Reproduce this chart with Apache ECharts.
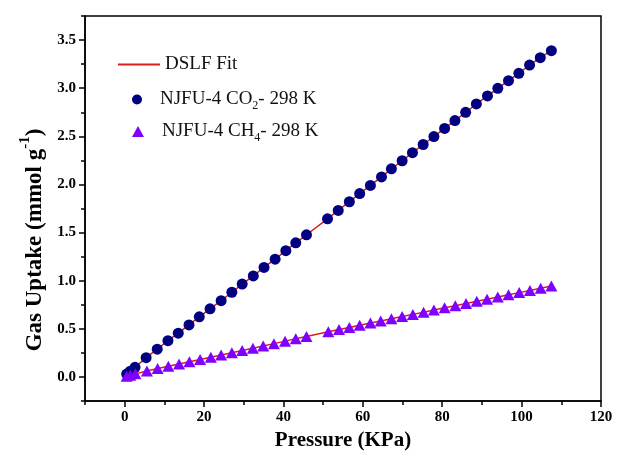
<!DOCTYPE html>
<html>
<head>
<meta charset="utf-8">
<script src="https://cdn.jsdelivr.net/npm/echarts@6/dist/echarts.min.js"></script>
<style>html,body{margin:0;padding:0;background:#fff;}#c{width:619px;height:458px;}</style>
</head>
<body>
<div id="c"></div>
<script>
// ---- data ----
const co2Pressure = [0.5, 1.4, 2.6, 5.4, 8.2, 10.9, 13.5, 16.2, 18.8, 21.5, 24.3, 27.0, 29.6, 32.4, 35.1, 37.9, 40.6, 43.1, 45.8,
  51.1, 53.8, 56.6, 59.2, 61.9, 64.7, 67.2, 69.9, 72.5, 75.2, 77.9, 80.6, 83.2, 85.9, 88.6, 91.4, 94.0, 96.7, 99.3, 102.0, 104.7, 107.5];
const co2Uptake = [0.03, 0.06, 0.10, 0.200, 0.288, 0.377, 0.455, 0.540, 0.625, 0.708, 0.792, 0.880, 0.965, 1.050, 1.138, 1.224, 1.312, 1.394, 1.477,
  1.643, 1.730, 1.820, 1.905, 1.990, 2.078, 2.162, 2.246, 2.330, 2.415, 2.497, 2.582, 2.663, 2.749, 2.836, 2.920, 2.999, 3.078, 3.155, 3.240, 3.317, 3.390];
const ch4Pressure = [0.5, 1.4, 2.7, 5.6, 8.3, 11.0, 13.7, 16.3, 19.0, 21.7, 24.3, 27.0, 29.6, 32.3, 34.9, 37.6, 40.4, 43.1, 45.8,
  51.3, 54.0, 56.6, 59.2, 61.9, 64.5, 67.2, 69.9, 72.6, 75.3, 77.9, 80.6, 83.3, 86.0, 88.7, 91.3, 94.0, 96.7, 99.4, 102.1, 104.8, 107.5];
const ch4Uptake = [0.008, 0.018, 0.032, 0.062, 0.088, 0.112, 0.135, 0.158, 0.182, 0.205, 0.228, 0.252, 0.275, 0.298, 0.322, 0.346, 0.372, 0.397, 0.420,
  0.470, 0.492, 0.514, 0.537, 0.560, 0.582, 0.605, 0.628, 0.650, 0.673, 0.695, 0.718, 0.740, 0.763, 0.786, 0.808, 0.830, 0.853, 0.876, 0.898, 0.921, 0.945];
const xMajorTicks = [0, 20, 40, 60, 80, 100, 120];
const xMinorTicks = [-10, 10, 30, 50, 70, 90, 110];
const yMajorTicks = [0, 0.5, 1.0, 1.5, 2.0, 2.5, 3.0, 3.5];
const yMinorTicks = [-0.25, 0.25, 0.75, 1.25, 1.75, 2.25, 2.75, 3.25, 3.75];
const fitName = 'DSLF Fit';
const co2Name = 'NJFU-4 CO2- 298 K';
const ch4Name = 'NJFU-4 CH4- 298 K';
const xTitle = 'Pressure (KPa)';
const yTitle = '{t|Gas Uptake (mmol g}{p|-1}{t|)}';

const zip = (a, b) => a.map((v, i) => [v, b[i]]);
const serif = 'Liberation Serif';
const black = '#000';
const red = '#d8201c';

const chart = echarts.init(document.getElementById('c'), null, {renderer: 'canvas'});
const legendText = (padLeft) => ({
  fontFamily: serif, fontSize: 19, color: '#111', padding: [0, 0, 0, padLeft],
  rich: {
    t: {fontFamily: serif, fontSize: 19, color: '#111', lineHeight: 24},
    s: {fontFamily: serif, fontSize: 12, color: '#111', lineHeight: 12, verticalAlign: 'bottom'}
  }
});
const legendFmt = (n) => {
  if (n === co2Name) return '{t|NJFU-4 CO}{s|2}{t|- 298 K}';
  if (n === ch4Name) return '{t|NJFU-4 CH}{s|4}{t|- 298 K}';
  return '{t|' + n + '}';
};
const tickLabel = {fontFamily: serif, fontWeight: 'bold', fontSize: 15, color: black};

chart.setOption({
  animation: false,
  backgroundColor: '#fff',
  grid: {left: 85, right: 18, top: 16, bottom: 57, show: true, borderColor: black, borderWidth: 1.5, backgroundColor: 'transparent'},
  legend: [
    {data: [{name: fitName, icon: 'rect', itemStyle: {color: red}}], left: 118, top: 55, padding: 0, itemGap: 0, itemWidth: 42, itemHeight: 2,
      formatter: legendFmt, textStyle: legendText(0), selectedMode: false},
    {data: [{name: co2Name, icon: 'circle'}], left: 132, top: 90, padding: 0, itemWidth: 10, itemHeight: 10,
      formatter: legendFmt, textStyle: legendText(13), selectedMode: false},
    {data: [{name: ch4Name, icon: 'triangle'}], left: 132, top: 122, padding: 0, itemWidth: 12, itemHeight: 11,
      formatter: legendFmt, textStyle: legendText(13), selectedMode: false}
  ],
  graphic: [{
    type: 'text', x: 32, y: 240, rotation: Math.PI / 2, silent: true,
    style: {
      text: yTitle, align: 'center', verticalAlign: 'middle',
      fontFamily: serif, fontWeight: 'bold', fontSize: 23, fill: black,
      rich: {
        t: {fontFamily: serif, fontWeight: 'bold', fontSize: 23, fill: black, lineHeight: 29, verticalAlign: 'bottom'},
        p: {fontFamily: serif, fontWeight: 'bold', fontSize: 15, fill: black, lineHeight: 15, verticalAlign: 'top'}
      }
    }
  }],
  xAxis: [
    {
      type: 'value', min: -10, max: 120, position: 'bottom',
      name: xTitle, nameLocation: 'middle', nameGap: 27,
      nameTextStyle: {fontFamily: serif, fontWeight: 'bold', fontSize: 21, color: black},
      axisLine: {show: true, onZero: false, lineStyle: {color: black, width: 1.5}},
      axisTick: {show: true, customValues: xMajorTicks, length: 6, inside: false, lineStyle: {color: black, width: 1.5}},
      axisLabel: Object.assign({customValues: xMajorTicks, margin: 9}, tickLabel),
      splitLine: {show: false}
    },
    {
      type: 'value', min: -10, max: 120, position: 'bottom',
      axisLine: {show: false, onZero: false},
      axisTick: {show: true, customValues: xMinorTicks, length: 4, lineStyle: {color: black, width: 1.5}},
      axisLabel: {show: false},
      splitLine: {show: false}
    }
  ],
  yAxis: [
    {
      type: 'value', min: -0.25, max: 3.75, position: 'left',
      axisLine: {show: true, onZero: false, lineStyle: {color: black, width: 1.5}},
      axisTick: {show: true, customValues: yMajorTicks, length: 6, lineStyle: {color: black, width: 1.5}},
      axisLabel: Object.assign({customValues: yMajorTicks, margin: 9, formatter: (v) => v.toFixed(1)}, tickLabel),
      splitLine: {show: false}
    },
    {
      type: 'value', min: -0.25, max: 3.75, position: 'left',
      axisLine: {show: false, onZero: false},
      axisTick: {show: true, customValues: yMinorTicks, length: 4, lineStyle: {color: black, width: 1.5}},
      axisLabel: {show: false},
      splitLine: {show: false}
    }
  ],
  series: [
    {name: fitName, type: 'line', xAxisIndex: 0, yAxisIndex: 0, data: zip(co2Pressure, co2Uptake), symbol: 'none', z: 1,
      lineStyle: {color: red, width: 1.5}, itemStyle: {color: red}},
    {name: fitName, type: 'line', xAxisIndex: 0, yAxisIndex: 0, data: zip(ch4Pressure, ch4Uptake), symbol: 'none', z: 1,
      lineStyle: {color: red, width: 1.5}, itemStyle: {color: red}},
    {name: co2Name, type: 'scatter', xAxisIndex: 0, yAxisIndex: 0, data: zip(co2Pressure, co2Uptake), symbol: 'circle', symbolSize: 11, z: 3,
      itemStyle: {color: '#000080', opacity: 1}},
    {name: ch4Name, type: 'scatter', xAxisIndex: 0, yAxisIndex: 0, data: zip(ch4Pressure, ch4Uptake), symbol: 'triangle', symbolSize: [12, 11], z: 3,
      itemStyle: {color: '#8000ff', opacity: 1}}
  ]
});
</script>
</body>
</html>
